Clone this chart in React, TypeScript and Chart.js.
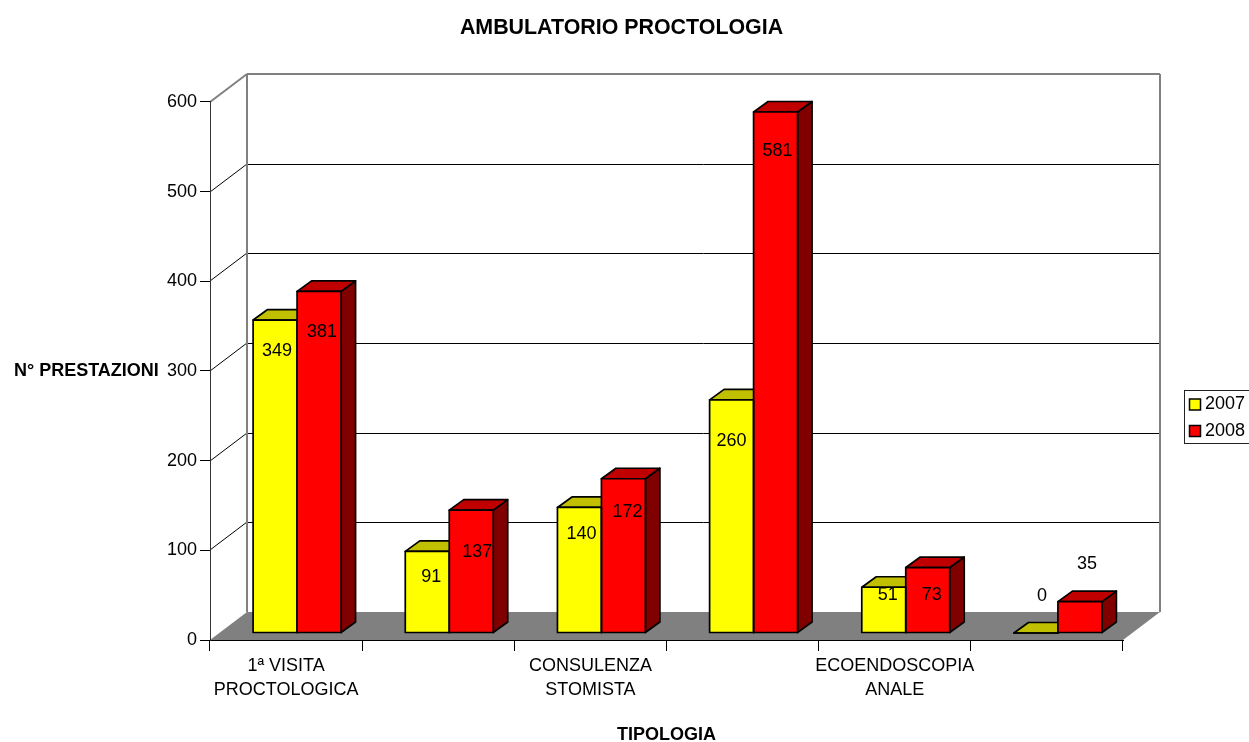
import React, { useEffect, useRef } from "react";
import { Chart, registerables } from "chart.js";

Chart.register(...registerables);

const chartTitle = "AMBULATORIO PROCTOLOGIA";
const xTitle = "TIPOLOGIA";
const yTitle = "N° PRESTAZIONI";
const categories: (string | string[])[] = [
  ["1ª VISITA", "PROCTOLOGICA"],
  "",
  ["CONSULENZA", "STOMISTA"],
  "",
  ["ECOENDOSCOPIA", "ANALE"],
  "",
];
const values2007 = [349, 91, 140, 260, 51, 0];
const values2008 = [381, 137, 172, 581, 73, 35];
const yTicks = [0, 100, 200, 300, 400, 500, 600];

// hand-placed data labels: nudge from the bar's centre-top
const labelDx = [
  [2, 4, 2, 0, 4, 6],
  [3, 6, 4, 2, 4, 7],
];
const labelDy = [
  [31, 26, 27, 41, 8, -37],
  [41, 42, 33, 39, 27, -38],
];

const FONT = "'Liberation Sans', Arial, sans-serif";
const WALL_DX = 37;
const WALL_DY = -28;
const BAR_SHIFT_X = 11;
const BAR_SHIFT_Y = -7;
const BAR_DX = 14.5;
const BAR_DY = -10.5;

const shade = [
  { top: "#C0C000", side: "#808000" },
  { top: "#C00000", side: "#800000" },
];

function poly(ctx: CanvasRenderingContext2D, pts: number[][], fill?: string, stroke?: string, lw = 1) {
  ctx.beginPath();
  pts.forEach((p, i) => (i ? ctx.lineTo(p[0], p[1]) : ctx.moveTo(p[0], p[1])));
  ctx.closePath();
  if (fill) {
    ctx.fillStyle = fill;
    ctx.fill();
  }
  if (stroke) {
    ctx.strokeStyle = stroke;
    ctx.lineWidth = lw;
    ctx.lineJoin = "round";
    ctx.stroke();
  }
}

function seg(ctx: CanvasRenderingContext2D, x1: number, y1: number, x2: number, y2: number, color: string, lw: number) {
  ctx.beginPath();
  ctx.moveTo(x1, y1);
  ctx.lineTo(x2, y2);
  ctx.strokeStyle = color;
  ctx.lineWidth = lw;
  ctx.stroke();
}

const scene3d = {
  id: "scene3d",
  afterLayout(chart: any) {
    chart.titleBlock.left = 0;
    chart.titleBlock.right = 1243;
  },
  beforeDraw(chart: any) {
    const { ctx } = chart;
    const xs = chart.scales.x;
    const ys = chart.scales.y;
    const l = xs.left;
    const r = xs.right;
    const b = Math.round(ys.getPixelForValue(0));
    const t = Math.round(ys.getPixelForValue(600));
    ctx.save();
    poly(ctx, [[l, b], [l + WALL_DX, b + WALL_DY], [r + WALL_DX, b + WALL_DY], [r, b]], "#808080");
    yTicks.slice(1, -1).forEach((v) => {
      const y = Math.round(ys.getPixelForValue(v));
      seg(ctx, l, y, l + WALL_DX, y + WALL_DY, "#000", 1);
      seg(ctx, l + WALL_DX, y + WALL_DY + 0.5, r + WALL_DX, y + WALL_DY + 0.5, "#000", 1);
    });
    seg(ctx, l, t, l + WALL_DX, t + WALL_DY, "#808080", 2);
    seg(ctx, l + WALL_DX, t + WALL_DY, r + WALL_DX, t + WALL_DY, "#808080", 2);
    seg(ctx, l + WALL_DX, t + WALL_DY, l + WALL_DX, b + WALL_DY, "#808080", 2);
    seg(ctx, r + WALL_DX, t + WALL_DY, r + WALL_DX, b + WALL_DY, "#808080", 2);
    ctx.restore();
  },
  beforeDatasetsDraw(chart: any) {
    const { ctx } = chart;
    ctx.save();
    ctx.translate(BAR_SHIFT_X, BAR_SHIFT_Y);
    chart.data.datasets.forEach((_: any, di: number) => {
      chart.getDatasetMeta(di).data.forEach((el: any) => {
        const x0 = el.x - el.width / 2;
        const x1 = el.x + el.width / 2;
        const y = el.y;
        const base = el.base;
        poly(ctx, [[x1, y], [x1 + BAR_DX, y + BAR_DY], [x1 + BAR_DX, base + BAR_DY], [x1, base]], shade[di].side, "#000", 1.7);
        poly(ctx, [[x0, y], [x0 + BAR_DX, y + BAR_DY], [x1 + BAR_DX, y + BAR_DY], [x1, y]], shade[di].top, "#000", 1.7);
      });
    });
  },
  afterDatasetsDraw(chart: any) {
    const { ctx } = chart;
    chart.data.datasets.forEach((_: any, di: number) => {
      chart.getDatasetMeta(di).data.forEach((el: any) => {
        const x0 = el.x - el.width / 2;
        const x1 = el.x + el.width / 2;
        poly(ctx, [[x0, el.y], [x1, el.y], [x1, el.base], [x0, el.base]], undefined, "#000", 1.7);
      });
    });
    ctx.restore();

    ctx.save();
    ctx.fillStyle = "#000";
    ctx.font = `18px ${FONT}`;
    ctx.textAlign = "center";
    ctx.textBaseline = "middle";
    chart.data.datasets.forEach((ds: any, di: number) => {
      chart.getDatasetMeta(di).data.forEach((el: any, i: number) => {
        ctx.fillText(String(ds.data[i]), el.x + BAR_SHIFT_X + labelDx[di][i], el.y + BAR_SHIFT_Y + labelDy[di][i]);
      });
    });

    ctx.textAlign = "left";
    ctx.font = `bold 18px ${FONT}`;
    ctx.fillText(yTitle, 14, 371);

    // legend: the frame runs off the right edge of the page, as in the reference
    ctx.font = `18px ${FONT}`;
    ctx.strokeStyle = "#222";
    ctx.lineWidth = 1;
    ctx.strokeRect(1184.5, 390.5, 70, 53);
    chart.data.datasets.forEach((ds: any, di: number) => {
      const cy = 404.5 + di * 26.5;
      ctx.fillStyle = ds.backgroundColor;
      ctx.fillRect(1189.5, cy - 5.5, 11, 11);
      ctx.strokeStyle = "#000";
      ctx.lineWidth = 1.5;
      ctx.strokeRect(1189.5, cy - 5.5, 11, 11);
      ctx.fillStyle = "#000";
      ctx.fillText(ds.label, 1205, cy);
    });
    ctx.restore();
  },
};

export default function App() {
  const ref = useRef<HTMLCanvasElement>(null);
  useEffect(() => {
    const chart = new Chart(ref.current!, {
      type: "bar",
      data: {
        labels: categories as any,
        datasets: [
          { label: "2007", data: values2007, backgroundColor: "#FFFF00", borderWidth: 0, categoryPercentage: 0.578, barPercentage: 1 },
          { label: "2008", data: values2008, backgroundColor: "#FF0000", borderWidth: 0, categoryPercentage: 0.578, barPercentage: 1 },
        ],
      },
      plugins: [scene3d],
      options: {
        animation: false,
        responsive: false,
        layout: { padding: { left: 0, right: 126, top: 0, bottom: 0 } },
        plugins: {
          legend: { display: false },
          tooltip: { enabled: false },
          title: {
            display: true,
            text: chartTitle,
            color: "#000",
            font: { family: FONT, size: 21.4, weight: "bold", lineHeight: 1.2 },
            padding: { top: 15, bottom: 61.3 },
          },
        },
        scales: {
          x: {
            afterFit: (s: any) => {
              s.height = 102;
            },
            grid: { offset: true, drawOnChartArea: false, tickLength: 11, color: "#000" },
            border: { color: "#000", width: 1 },
            ticks: {
              autoSkip: false,
              maxRotation: 0,
              minRotation: 0,
              padding: 3,
              color: "#000",
              font: { family: FONT, size: 18, lineHeight: 1.33 },
            },
            title: {
              display: true,
              text: xTitle,
              color: "#000",
              font: { family: FONT, size: 18, weight: "bold", lineHeight: 1.2 },
              padding: { top: 0, bottom: -4 },
            },
          },
          y: {
            min: 0,
            max: 600,
            afterFit: (s: any) => {
              s.width = 210;
            },
            afterBuildTicks: (s: any) => {
              s.ticks = yTicks.map((value) => ({ value }));
            },
            grid: { drawOnChartArea: false, tickLength: 10, color: "#000" },
            border: { color: "#333", width: 1 },
            ticks: {
              padding: 3,
              color: "#000",
              font: { family: FONT, size: 18 },
            },
          },
        },
      } as any,
    });
    return () => chart.destroy();
  }, []);
  return (
    <canvas
      ref={ref}
      width={1249}
      height={742}
      style={{ position: "absolute", left: 0, top: 0, display: "block" }}
    />
  );
}
